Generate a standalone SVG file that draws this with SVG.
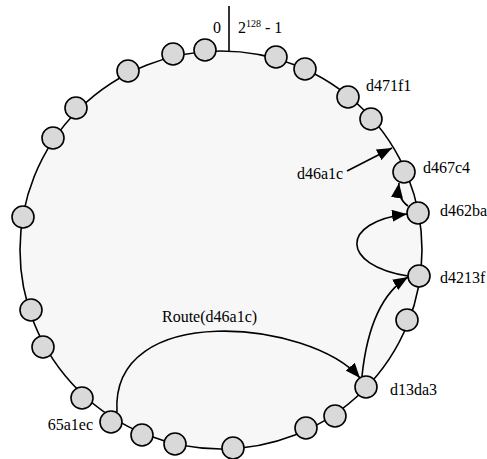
<svg xmlns="http://www.w3.org/2000/svg" width="487" height="459" viewBox="0 0 487 459">
<style>
.ring{fill:#f7f7f7;stroke:#000;stroke-width:1.6}
.node circle{fill:#d9d9d9;stroke:#000;stroke-width:1.6}
.conn path{fill:none;stroke:#000;stroke-width:1.6}
.lbl{font-family:'Liberation Serif','Times New Roman',serif;font-size:16px;fill:#000}
</style>
<defs>
<marker id="ah" viewBox="0 0 15 12" refX="15" refY="6" markerWidth="15" markerHeight="12" markerUnits="userSpaceOnUse" orient="auto"><path d="M0,0 L15,6 L0,12 z" fill="#000"/></marker>
</defs>
<rect width="487" height="459" fill="#fff"/>
<g id="ring">
<ellipse class="ring" cx="221" cy="250" rx="201" ry="199"/>
<line x1="229" y1="6" x2="229" y2="51" stroke="#000" stroke-width="1.6"/>
<text class="lbl" x="213" y="33">0</text>
<text class="lbl" x="238" y="33">2<tspan font-size="10" dy="-6">128</tspan><tspan dy="6"> - 1</tspan></text>
</g>
<g id="connectors" class="conn">
<path d="M117,412 C110,300 310,320 360,378" marker-end="url(#ah)"/>
<path d="M362,376 Q370,300 408,277" marker-end="url(#ah)"/>
<path d="M408,276 C340,265 340,222 407,214" marker-end="url(#ah)"/>
<path d="M408,206 Q397,198 399,183" marker-end="url(#ah)"/>
<path d="M347,171 L392,148" marker-end="url(#ah)"/>
</g>
<g id="n1" class="node"><circle cx="128" cy="71" r="11"/></g>
<g id="n2" class="node"><circle cx="173" cy="54" r="11"/></g>
<g id="n3" class="node"><circle cx="205" cy="50" r="11"/></g>
<g id="n4" class="node"><circle cx="276" cy="57" r="11"/></g>
<g id="n5" class="node"><circle cx="305" cy="69" r="11"/></g>
<g id="d471f1" class="node"><circle cx="348" cy="97" r="11"/><text class="lbl" x="366" y="91">d471f1</text></g>
<g id="n7" class="node"><circle cx="371" cy="119" r="11"/></g>
<g id="d467c4" class="node"><circle cx="404" cy="172" r="11"/><text class="lbl" x="423" y="173">d467c4</text></g>
<g id="d462ba" class="node"><circle cx="418" cy="213" r="11"/><text class="lbl" x="440" y="216">d462ba</text></g>
<g id="d4213f" class="node"><circle cx="419" cy="276" r="11"/><text class="lbl" x="440" y="283">d4213f</text></g>
<g id="n11" class="node"><circle cx="407" cy="320" r="11"/></g>
<g id="d13da3" class="node"><circle cx="366" cy="387" r="11"/><text class="lbl" x="390" y="395">d13da3</text></g>
<g id="n13" class="node"><circle cx="335" cy="416" r="11"/></g>
<g id="n14" class="node"><circle cx="306" cy="428" r="11"/></g>
<g id="n15" class="node"><circle cx="233" cy="448" r="11"/></g>
<g id="n16" class="node"><circle cx="175" cy="444" r="11"/></g>
<g id="n17" class="node"><circle cx="142" cy="435" r="11"/></g>
<g id="a65a1ec" class="node"><circle cx="111" cy="422" r="11"/><text class="lbl" x="93" y="430" text-anchor="end">65a1ec</text></g>
<g id="n19" class="node"><circle cx="82" cy="398" r="11"/></g>
<g id="n20" class="node"><circle cx="43" cy="347" r="11"/></g>
<g id="n21" class="node"><circle cx="31" cy="310" r="11"/></g>
<g id="n22" class="node"><circle cx="23" cy="217" r="11"/></g>
<g id="n23" class="node"><circle cx="53" cy="138" r="11"/></g>
<g id="n24" class="node"><circle cx="76" cy="108" r="11"/></g>
<text class="lbl" x="162" y="322">Route(d46a1c)</text>
<text class="lbl" x="297" y="179">d46a1c</text>
</svg>
